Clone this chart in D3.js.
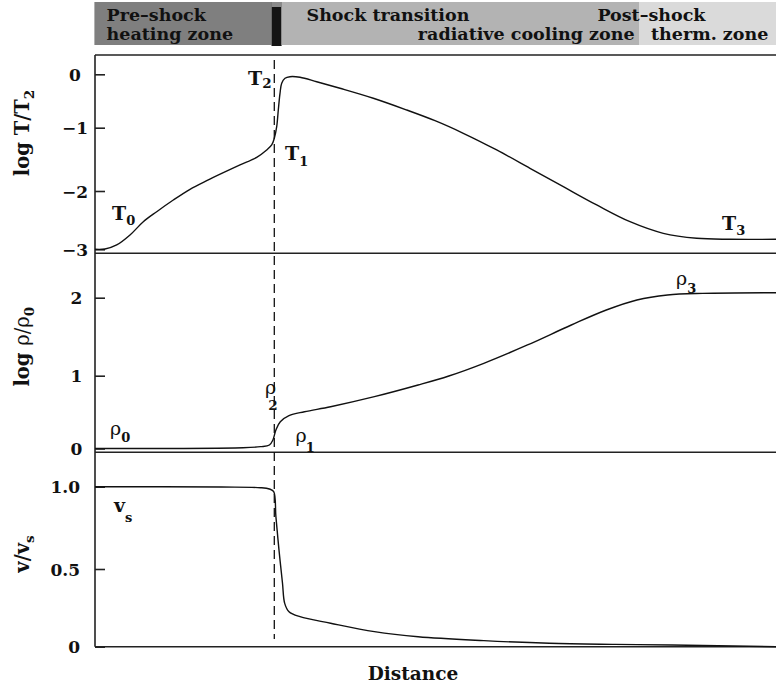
<!DOCTYPE html>
<html><head><meta charset="utf-8">
<script src="https://cdn.jsdelivr.net/npm/d3@7"></script>
<style>
body{margin:0;background:#fff}
svg{display:block}
text{font-family:"DejaVu Serif",serif;fill:#111}
</style>
</head><body>
<svg id="c" width="776" height="687"></svg>
<script>
// ---- data (distance in arbitrary units) ----
const distT = [0,10,21.7,35,48.3,61.7,78.3,95,111.7,128.3,145,161.7,171.7,176.7,179.3,181.7,183.3,185,186.7,190,195,205,221.7,245,278.3,311.7,340,368.3,401.7,435,468.3,501.7,535,568.3,601.7,635,681];
const logT  = [-3,-2.995,-2.926,-2.755,-2.527,-2.355,-2.155,-1.973,-1.837,-1.711,-1.589,-1.468,-1.352,-1.273,-1.167,-0.981,-0.669,-0.356,-0.169,-0.075,-0.045,-0.056,-0.139,-0.262,-0.449,-0.669,-0.869,-1.088,-1.352,-1.641,-1.932,-2.24,-2.527,-2.726,-2.811,-2.828,-2.828];

const distRho = [0,148,165.6,174.4,177.9,180.9,185.3,194,209.4,235.6,279.4,323.1,353.8,388.8,432.5,476.3,511.3,541.9,572.5,607.5,681];
const logRho  = [0,0.011,0.025,0.048,0.117,0.255,0.368,0.451,0.505,0.574,0.712,0.872,0.996,1.159,1.394,1.650,1.842,1.971,2.035,2.056,2.064];

const distV = [0,126.3,165.6,174.4,178.7,180.9,184,187.5,189.7,194,205,235.6,279.4,323.1,388.8,454.4,520,576.9,681];
const vel   = [1.0,0.998,0.994,0.986,0.970,0.818,0.615,0.408,0.279,0.225,0.193,0.151,0.097,0.064,0.039,0.022,0.015,0.011,0.0];

const shockDist = 179.3;
const tickT = [0,-1,-2,-3];
const tickRho = [2,1,0];
const tickV = [1.0,0.5,0];

const zoneEdges = [-0.6,176.5,186.6,544,681];
const zoneFill  = ["#7f7f7f","#141414","#b3b3b3","#dadada"];

// ---- scales ----
const svg = d3.select("#c");
const x  = d3.scaleLinear().domain([0,681]).range([95,776]);
const yT = d3.scaleLinear().domain([-3,-2,-1,0]).range([249.3,191,127.7,74.3]);
const yR = d3.scaleLinear().domain([0,1,2]).range([448.5,375.7,297.7]);
const yV = d3.scaleLinear().domain([0,0.5,1]).range([646.7,569,486.7]);

// ---- banner ----
const bTop = 2, bBot = 45;
svg.selectAll("rect.zone").data(zoneFill).join("rect")
  .attr("x",(d,i)=>x(zoneEdges[i])).attr("width",(d,i)=>x(zoneEdges[i+1])-x(zoneEdges[i]))
  .attr("y",bTop).attr("height",(d,i)=> i===1 ? bBot-bTop+1 : bBot-bTop).attr("fill",d=>d);
svg.append("rect").attr("x",x(zoneEdges[1])).attr("width",x(zoneEdges[2])-x(zoneEdges[1]))
  .attr("y",bTop).attr("height",5).attr("fill","#8a8a8a");

const bfs = 17.5;
function btext(t, xd, y, anchor){
  svg.append("text").attr("x",x(xd)).attr("y",y).attr("text-anchor",anchor||"start")
    .attr("font-weight","bold").attr("font-size",bfs).text(t);
}
btext("Pre–shock",11.6,20.5);
btext("heating zone",11.6,40);
btext("Shock transition",211.5,20.5);
btext("radiative cooling zone",539.6,40,"end");
btext("Post–shock",502.4,20.5);
btext("therm. zone",556,40);

// ---- frame ----
const frame = svg.append("g").attr("stroke","#222").attr("stroke-width",1.6).attr("fill","none");
const xl = x(0), xr = x(681);
[55, 253.3, 452.3, 646.7].forEach(yy=>{
  frame.append("line").attr("x1",xl).attr("x2",xr).attr("y1",yy).attr("y2",yy);
});
frame.append("line").attr("x1",xl).attr("x2",xl).attr("y1",55).attr("y2",646.7);

// ---- axes ----
function axis(scale, vals, fmt){
  const g = svg.append("g").attr("transform",`translate(${xl},0)`)
    .call(d3.axisLeft(scale).tickValues(vals).tickSize(-10).tickPadding(15).tickFormat(fmt));
  g.select(".domain").remove();
  g.selectAll(".tick line").attr("stroke","#222").attr("stroke-width",1.6);
  g.selectAll(".tick text").attr("font-family","DejaVu Serif").attr("font-weight","bold")
    .attr("font-size",17).attr("fill","#111").attr("dy","0.36em");
  return g;
}
const minus = d => d<0 ? "−"+Math.abs(d) : String(d);
axis(yT,tickT,minus).selectAll(".tick text").attr("text-anchor","middle").attr("x",-20);
axis(yR,tickRho,minus).selectAll(".tick text").attr("text-anchor","middle").attr("x",-18.5);
axis(yV,tickV,d=> d===0 ? "0" : d.toFixed(1)).selectAll(".tick text").attr("text-anchor","end").attr("x",-15);

// ---- shock dashed line ----
svg.append("line").attr("x1",x(shockDist)).attr("x2",x(shockDist)).attr("y1",60).attr("y2",639)
  .attr("stroke","#111").attr("stroke-width",1.3).attr("stroke-dasharray","9,5");

// ---- curves ----
function curve(dist, vals, ys){
  const line = d3.line().x(i=>x(dist[i])).y(i=>ys(vals[i])).curve(d3.curveCatmullRom.alpha(0.5));
  svg.append("path").attr("d",line(d3.range(dist.length)))
    .attr("fill","none").attr("stroke","#111").attr("stroke-width",1.4);
}
curve(distT,logT,yT);
curve(distRho,logRho,yR);
curve(distV,vel,yV);

// ---- annotations ----
function lab(xd, ypx, main, sub, opt){
  opt = opt||{};
  const t = svg.append("text").attr("x",x(xd)).attr("y",ypx);
  t.append("tspan").attr("font-size",opt.fs||19).attr("font-weight",opt.mainBold===false?"normal":"bold").text(main);
  t.append("tspan").attr("font-size",opt.sfs||13).attr("font-weight","bold").attr("dy",opt.sdy||5)
    .attr("dx",opt.sdx||0).text(sub);
}
lab(17, yT(-2.497), "T","0");
lab(153, yT(-0.2), "T","2",{sfs:13.5,sdy:3});
lab(190, yT(-1.51), "T","1",{sdy:6});
lab(627, yT(-2.669), "T","3");
lab(15, yR(0.185), "ρ","0",{mainBold:false,fs:19,sdy:7,sdx:0});
lab(200.6, yR(0.09), "ρ","1",{mainBold:false,fs:19,sdy:10,sdx:-1});
lab(581, yR(2.163), "ρ","3",{mainBold:false,fs:19,sdy:8,sdx:0});
// rho_2 with subscript below
svg.append("text").attr("x",x(170)).attr("y",yR(0.75)).attr("font-size",19).text("ρ");
svg.append("text").attr("x",x(173.3)).attr("y",yR(0.525)).attr("font-size",13.5).attr("font-weight","bold").text("2");
lab(19, yV(0.848), "v","s",{sdy:10,sdx:0});

// ---- axis titles ----
function ytitle(cy, parts){
  const t = svg.append("text").attr("transform",`translate(29,${cy}) rotate(-90)`).attr("text-anchor","middle");
  parts.forEach(p=>{
    t.append("tspan").attr("font-size",p.fs||19.5).attr("font-weight",p.b===false?"normal":"bold")
      .attr("dy",p.dy||0).text(p.t);
  });
}
ytitle(133,[{t:"log T/T"},{t:"2",fs:13.5,dy:5}]);
ytitle(346.7,[{t:"log "},{t:"ρ/ρ",b:false},{t:"0",fs:13.5,dy:5}]);
ytitle(554,[{t:"v/v"},{t:"s",fs:13.5,dy:5}]);

svg.append("text").attr("x",x(318)).attr("y",680).attr("text-anchor","middle")
  .attr("font-weight","bold").attr("font-size",18.5).text("Distance");
</script>
</body></html>
